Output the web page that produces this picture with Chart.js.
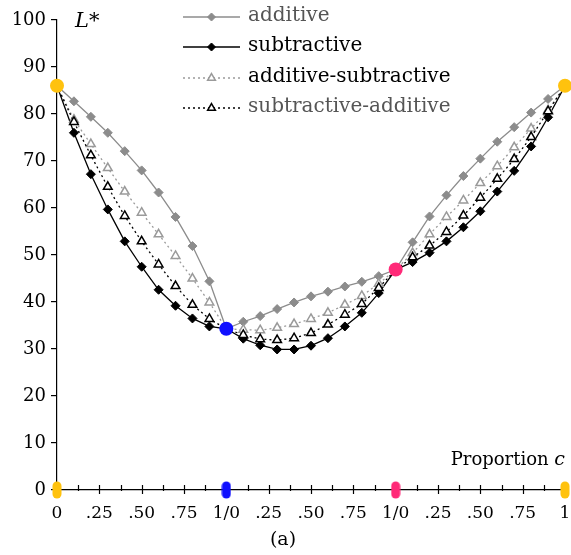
<!DOCTYPE html>
<html>
<head>
<meta charset="utf-8">
<script src="https://cdn.jsdelivr.net/npm/chart.js@4/dist/chart.umd.min.js"></script>
<style>
  html,body{margin:0;padding:0;background:#fff;overflow:hidden}
  #wrap{width:571px;height:555px;position:relative}
</style>
</head>
<body>
<div id="wrap"><canvas id="c"></canvas></div>
<script>
// ----- data -----
// x positions: three chained proportion ranges 0..1 | 0..1 | 0..1 laid end to end
const position = [0,0.1,0.2,0.3,0.4,0.5,0.6,0.7,0.8,0.9,1,1.1,1.2,1.3,1.4,1.5,1.6,1.7,1.8,1.9,2,2.1,2.2,2.3,2.4,2.5,2.6,2.7,2.8,2.9,3];
const xTickLabels = ['0','.25','.50','.75','1/0','.25','.50','.75','1/0','.25','.50','.75','1'];

const additive    = [86,82.7,79.4,76.0,72.1,68.0,63.3,58.1,51.9,44.4,34.3,35.8,37.0,38.5,39.9,41.2,42.2,43.3,44.3,45.5,46.9,52.7,58.2,62.7,66.8,70.5,74.1,77.2,80.3,83.2,86];
const subtractive = [86,76.0,67.2,59.7,52.9,47.5,42.6,39.2,36.5,34.8,34.3,32.2,30.8,29.9,29.9,30.7,32.3,34.8,37.7,41.9,46.9,48.5,50.5,52.9,55.9,59.3,63.5,67.9,73.1,79.3,86];
const addSub      = [86,78.8,73.6,68.5,63.5,59.0,54.4,49.8,45.0,39.9,34.3,34.1,34.0,34.5,35.3,36.4,37.7,39.4,41.3,43.9,46.9,50.4,54.4,58.1,61.6,65.3,68.9,72.9,76.9,80.8,86];
const subAdd      = [86,78.3,71.2,64.5,58.3,52.9,48.0,43.4,39.4,36.4,34.3,33.0,32.1,31.9,32.3,33.4,35.2,37.3,39.6,43.0,46.9,49.5,52.0,54.9,58.4,62.2,66.2,70.4,75.1,80.6,86];

const nodeX = [0,1,2,3];
const nodeL = [86,34.3,46.9,86];
const nodeColors = ['#ffc20e','#1010ff','#ff2a78','#ffc20e'];

const seriesNames = ['additive','subtractive','additive-subtractive','subtractive-additive'];

// ----- helpers -----
const SERIF = '"DejaVu Serif", serif';
const GRAY = '#8c8c8c';
const pts = (ys)=> ys.map((y,i)=>({x:position[i], y}));
const innerRadius = (r)=> (c)=> (c.dataIndex % 10 === 0 ? 0 : r);

function pill(color){
  const cv = document.createElement('canvas');
  cv.width = 10; cv.height = 18;
  const g = cv.getContext('2d');
  g.fillStyle = color;
  g.beginPath();
  g.roundRect(0.5,0.5,9,17,4.5);
  g.fill();
  return cv;
}

const styles = [
  {color:GRAY,   dash:[],    point:'rectRot',  r:4.5, fill:GRAY,   bw:1,   text:'#555'},
  {color:'#000', dash:[],    point:'rectRot',  r:4.5, fill:'#000', bw:1,   text:'#000'},
  {color:'#9a9a9a', dash:[2,3], point:'triangle', r:5, fill:'#fff', bw:1.5, text:'#000'},
  {color:'#000', dash:[2,3], point:'triangle', r:5, fill:'#fff', bw:1.5, text:'#555'}
];

const seriesData = [additive, subtractive, addSub, subAdd];

const lineSets = seriesData.map((ys,k)=>({
  label: seriesNames[k],
  data: pts(ys),
  borderColor: styles[k].color,
  borderWidth: 1.3,
  borderDash: styles[k].dash,
  pointStyle: styles[k].point,
  pointRadius: innerRadius(styles[k].r),
  pointBackgroundColor: styles[k].fill,
  pointBorderColor: styles[k].color,
  pointBorderWidth: styles[k].bw,
  tension: 0,
  order: 4 - k
}));

// ----- plugins -----
const decorations = {
  id:'decorations',
  beforeDatasetsDraw(chart){
    const ctx = chart.ctx, xs = chart.scales.x, area = chart.chartArea;
    ctx.save();
    // x ticks crossing the axis
    ctx.strokeStyle = '#000'; ctx.lineWidth = 1.2;
    xs.ticks.forEach(t=>{
      const px = Math.round(xs.getPixelForValue(t.value)) + 0.5;
      const major = Math.abs(t.value*4 - Math.round(t.value*4)) < 1e-6;
      ctx.beginPath();
      ctx.moveTo(px, area.bottom - 5);
      ctx.lineTo(px, area.bottom + (major ? 4 : 1));
      ctx.stroke();
    });
    ctx.restore();
  },
  afterDraw(chart){
    const ctx = chart.ctx, area = chart.chartArea;
    ctx.save();
    ctx.fillStyle = '#000';
    ctx.textBaseline = 'middle';
    // axis titles
    ctx.font = 'italic 21px ' + SERIF;
    ctx.textAlign = 'left';
    ctx.fillText('L*', 75, 22);
    ctx.textAlign = 'right';
    ctx.font = 'italic 19px ' + SERIF;
    const cw = ctx.measureText('c').width;
    ctx.fillText('c', area.right, 460);
    ctx.font = '18px ' + SERIF;
    ctx.fillText('Proportion ', area.right - cw, 460);
    // caption
    ctx.textAlign = 'center';
    ctx.font = '19px ' + SERIF;
    ctx.fillText('(a)', 283, 540);
    // legend
    ctx.textAlign = 'left';
    ctx.font = '20px ' + SERIF;
    const rows = [17, 47, 78, 108];
    rows.forEach((y,k)=>{
      const s = styles[k];
      ctx.strokeStyle = s.color;
      ctx.lineWidth = 1.3;
      ctx.setLineDash(s.dash);
      ctx.beginPath(); ctx.moveTo(183, y); ctx.lineTo(240, y); ctx.stroke();
      ctx.setLineDash([]);
      ctx.fillStyle = s.fill;
      ctx.lineWidth = s.bw;
      Chart.helpers.drawPoint(ctx, {pointStyle:s.point, radius:s.r - 0.5, rotation:0, borderWidth:s.bw}, 211.5, y);
      ctx.fillStyle = s.text;
      ctx.fillText(seriesNames[k], 248, y - 1);
    });
    ctx.restore();
  }
};

new Chart(document.getElementById('c'), {
  type:'line',
  data:{
    datasets:[
      {
        label:'axis marks',
        data: nodeX.map(x=>({x, y:0})),
        showLine:false,
        pointStyle: nodeColors.map(pill),
        pointRadius: 8,
        clip:false,
        order:-2
      },
      {
        label:'mixtures',
        data: nodeX.map((x,i)=>({x, y:nodeL[i]})),
        showLine:false,
        pointRadius: 7,
        pointBackgroundColor: nodeColors,
        pointBorderWidth: 0,
        clip:false,
        order:-1
      },
      ...lineSets
    ]
  },
  options:{
    responsive:true,
    maintainAspectRatio:false,
    animation:false,
    layout:{autoPadding:false, padding:{top:20, right:0, bottom:0, left:0}},
    plugins:{legend:{display:false}, tooltip:{enabled:false}},
    scales:{
      x:{
        type:'linear', min:0, max:3,
        grid:{display:false},
        border:{display:true, color:'#000', width:1.2},
        ticks:{
          stepSize:0.125, autoSkip:false, maxRotation:0, padding:5,
          color:'#000', font:{family:SERIF, size:17},
          callback:(v)=>{
            const q = v*4;
            return Math.abs(q - Math.round(q)) < 1e-6 ? xTickLabels[Math.round(q)] : '';
          }
        },
        afterFit:(s)=>{ s.height = 65; s.paddingLeft = 0; s.paddingRight = 6; }
      },
      y:{
        min:0, max:100,
        grid:{display:true, drawOnChartArea:false, drawTicks:true, tickLength:6, color:'#000', lineWidth:1.2},
        border:{display:true, color:'#000', width:1.2},
        ticks:{stepSize:10, padding:5, color:'#000', font:{family:SERIF, size:18}},
        afterFit:(s)=>{ s.width = 57; }
      }
    }
  },
  plugins:[decorations]
});
</script>
</body>
</html>
